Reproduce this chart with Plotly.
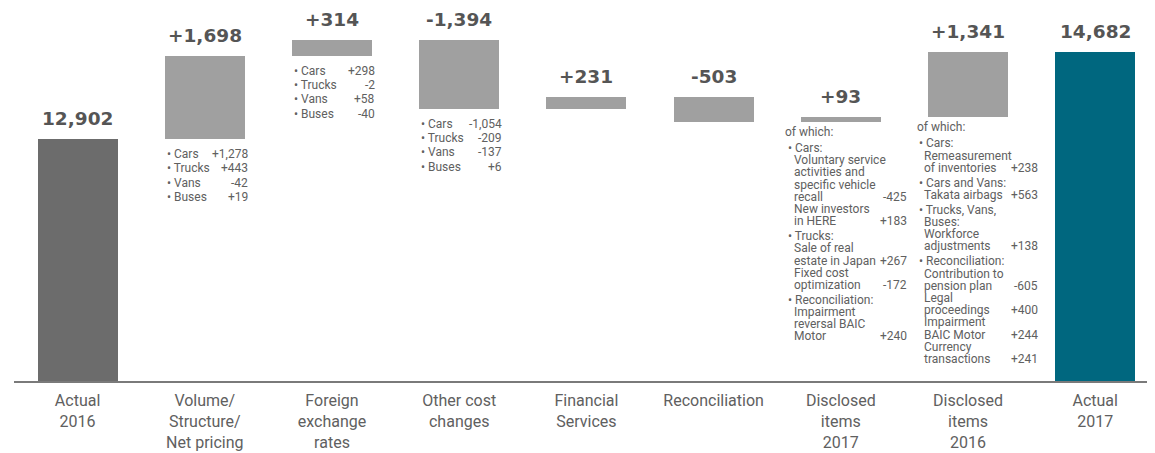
import plotly.graph_objects as go

# %% Data
cats = ["Actual<br>2016", "Volume/<br>Structure/<br>Net pricing", "Foreign<br>exchange<br>rates",
        "Other cost<br>changes", "Financial<br>Services", "Reconciliation",
        "Disclosed<br>items<br>2017", "Disclosed<br>items<br>2016", "Actual<br>2017"]
vals = [12902, 1698, 314, -1394, 231, -503, 93, 1341, 14682]
measure = ["total", "delta", "delta", "delta", "delta", "delta", "delta", "delta", "total"]
val_labels = ["12,902", "+1,698", "+314", "-1,394", "+231", "-503", "+93", "+1,341", "14,682"]

seg_names = ["Cars", "Trucks", "Vans", "Buses"]
vol_vals = ["+1,278", "+443", "-42", "+19"]
fx_vals = ["+298", "-2", "+58", "-40"]
cost_vals = ["-1,054", "-209", "-137", "+6"]

d17_text = ["of which:", "• Cars:", "Voluntary service", "activities and", "specific vehicle",
            "recall", "New investors", "in HERE", "• Trucks:", "Sale of real",
            "estate in Japan", "Fixed cost", "optimization", "• Reconciliation:",
            "Impairment", "reversal BAIC", "Motor"]
d17_nums = ["", "", "", "", "", "-425", "", "+183", "", "", "+267", "", "-172", "", "", "", "+240"]

d16_text = ["of which:", "• Cars:", "Remeasurement", "of inventories", "• Cars and Vans:",
            "Takata airbags", "• Trucks, Vans,", "Buses:", "Workforce", "adjustments",
            "• Reconciliation:", "Contribution to", "pension plan", "Legal", "proceedings",
            "Impairment", "BAIC Motor", "Currency", "transactions"]
d16_nums = ["", "", "", "+238", "", "+563", "", "", "", "+138", "", "", "-605", "",
            "+400", "", "+244", "", "+241"]

# %% Bar geometry (floating bars)
bases, heights = [], []
run = 0
for v, m in zip(vals, measure):
    if m == "total":
        bases.append(0)
        heights.append(v)
        run = v
    else:
        bases.append(run)
        heights.append(v)
        run += v

colors = ["#6c6c6c"] + ["#a0a0a0"] * 7 + ["#00677f"]
xs = list(range(len(cats)))

fig = go.Figure(go.Bar(x=xs, y=heights, base=bases, marker_color=colors,
                       marker_line_width=0, width=0.63, hoverinfo="skip"))

TXT = "#606060"
FONT = "Roboto"

# value labels above bars
for i, (b, h) in enumerate(zip(bases, heights)):
    fig.add_annotation(x=i, y=max(b, b + h), text=val_labels[i], showarrow=False,
                       yanchor="bottom", yshift=8,
                       font=dict(family="DejaVu Sans", size=18.5, color="#555555", weight="bold"))


def small(i, y, text, dx, anchor, dy):
    fig.add_annotation(x=i, y=y, text=text, showarrow=False, xanchor=anchor, yanchor="middle",
                       xshift=dx, yshift=-dy, font=dict(family=FONT, size=12, color=TXT))


# short segment lists
for i, nums in [(1, vol_vals), (2, fx_vals), (3, cost_vals)]:
    bottom = min(bases[i], bases[i] + heights[i])
    for k, (n, v) in enumerate(zip(seg_names, nums)):
        dy = 15 + 14.3 * k
        small(i, bottom, "• " + n, -40, "left", dy)
        small(i, bottom, v, 45, "right", dy)

# disclosed items lists
for i, texts, nums, offs in [(6, d17_text, d17_nums, (-58, -55, -49, 68)),
                             (7, d16_text, d16_nums, (-53, -51, -46, 72))]:
    bottom = min(bases[i], bases[i] + heights[i])
    dy = 10
    for k, (t, n) in enumerate(zip(texts, nums)):
        if k == 1:
            dy += 16
        elif k > 1:
            dy += 12.2 + (2.7 if t.startswith("•") else 0)
        if k == 0:
            dx = offs[0]
        elif t.startswith("•"):
            dx = offs[1]
        else:
            dx = offs[2]
        small(i, bottom, t, dx, "left", dy)
        if n:
            small(i, bottom, n, offs[3], "right", dy)

# page body has an 8px margin, so the figure is sized to end at the window edge
fig.update_layout(
    width=1147, height=445,
    margin=dict(l=6, r=0, t=0, b=72),
    plot_bgcolor="white", paper_bgcolor="white",
    showlegend=False, bargap=0,
    xaxis=dict(range=[-0.5, 8.47], tickvals=xs, ticktext=cats, showgrid=False, zeroline=False,
               showline=True, linecolor="#7a7a7a", linewidth=2, ticks="", ticklabelstandoff=4,
               tickfont=dict(family=FONT, size=16, color=TXT)),
    yaxis=dict(range=[7967, 15573], visible=False, showgrid=False, zeroline=False),
)

fig.write_html("out.html")
